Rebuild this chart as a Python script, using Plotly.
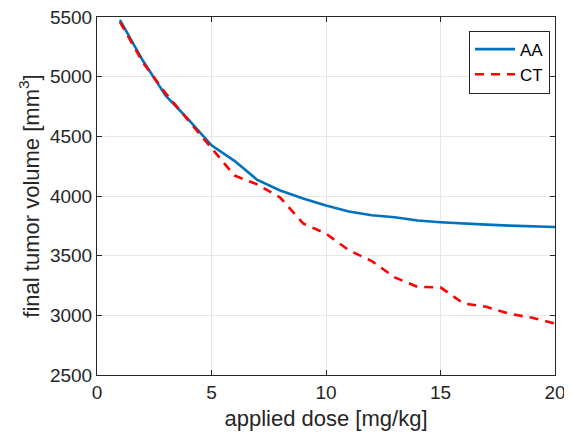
import plotly.graph_objects as go

dose = [1, 2, 3, 4, 5, 6, 7, 8, 9, 10, 11, 12, 13, 14, 15, 16, 17, 18, 19, 20]
aa = [5475, 5135, 4840, 4640, 4425, 4295, 4135, 4046, 3980, 3920, 3870, 3838, 3822, 3794, 3780, 3768, 3760, 3752, 3744, 3740]
ct = [5460, 5120, 4860, 4630, 4395, 4172, 4097, 3987, 3770, 3685, 3545, 3455, 3318, 3238, 3234, 3100, 3072, 3013, 2980, 2932]

FONT = "Liberation Sans, Arial, Helvetica"

fig = go.Figure()
fig.add_trace(go.Scatter(x=dose, y=aa, mode="lines", name="AA",
                         line=dict(color="#0072BD", width=2.6)))
fig.add_trace(go.Scatter(x=dose, y=ct, mode="lines", name="CT",
                         line=dict(color="#FF0000", width=2.6, dash="9px,7px")))

axis_common = dict(showline=True, linecolor="#262626", linewidth=1, mirror="ticks",
                   ticks="inside", ticklen=5, tickcolor="#262626",
                   showgrid=True, gridcolor="#e6e6e6", gridwidth=1, zeroline=False,
                   automargin=False, ticklabeloverflow="allow",
                   tickfont=dict(family=FONT, size=19, color="#262626"))

fig.update_xaxes(range=[0, 20], tickvals=[0, 5, 10, 15, 20],
                 title=dict(text="applied dose [mg/kg]", standoff=8,
                            font=dict(family=FONT, size=22, color="#262626")),
                 **axis_common)
fig.update_yaxes(range=[2500, 5500], tickvals=[2500, 3000, 3500, 4000, 4500, 5000, 5500],
                 title=dict(text="final tumor volume [mm<sup>3</sup>]", standoff=4,
                            font=dict(family=FONT, size=22, color="#262626")),
                 **axis_common)

# page is shown with an 8 px body offset, so margins compensate
fig.update_layout(width=572, height=437,
                  margin=dict(l=89, r=25, t=9, b=70),
                  paper_bgcolor="white", plot_bgcolor="white",
                  legend=dict(x=0.989, y=0.962, xanchor="right", yanchor="top",
                              bgcolor="white", bordercolor="#262626", borderwidth=1,
                              font=dict(family=FONT, size=17, color="black"),
                              tracegroupgap=0, itemwidth=40),
                  showlegend=True)

fig.write_html("out.html")
